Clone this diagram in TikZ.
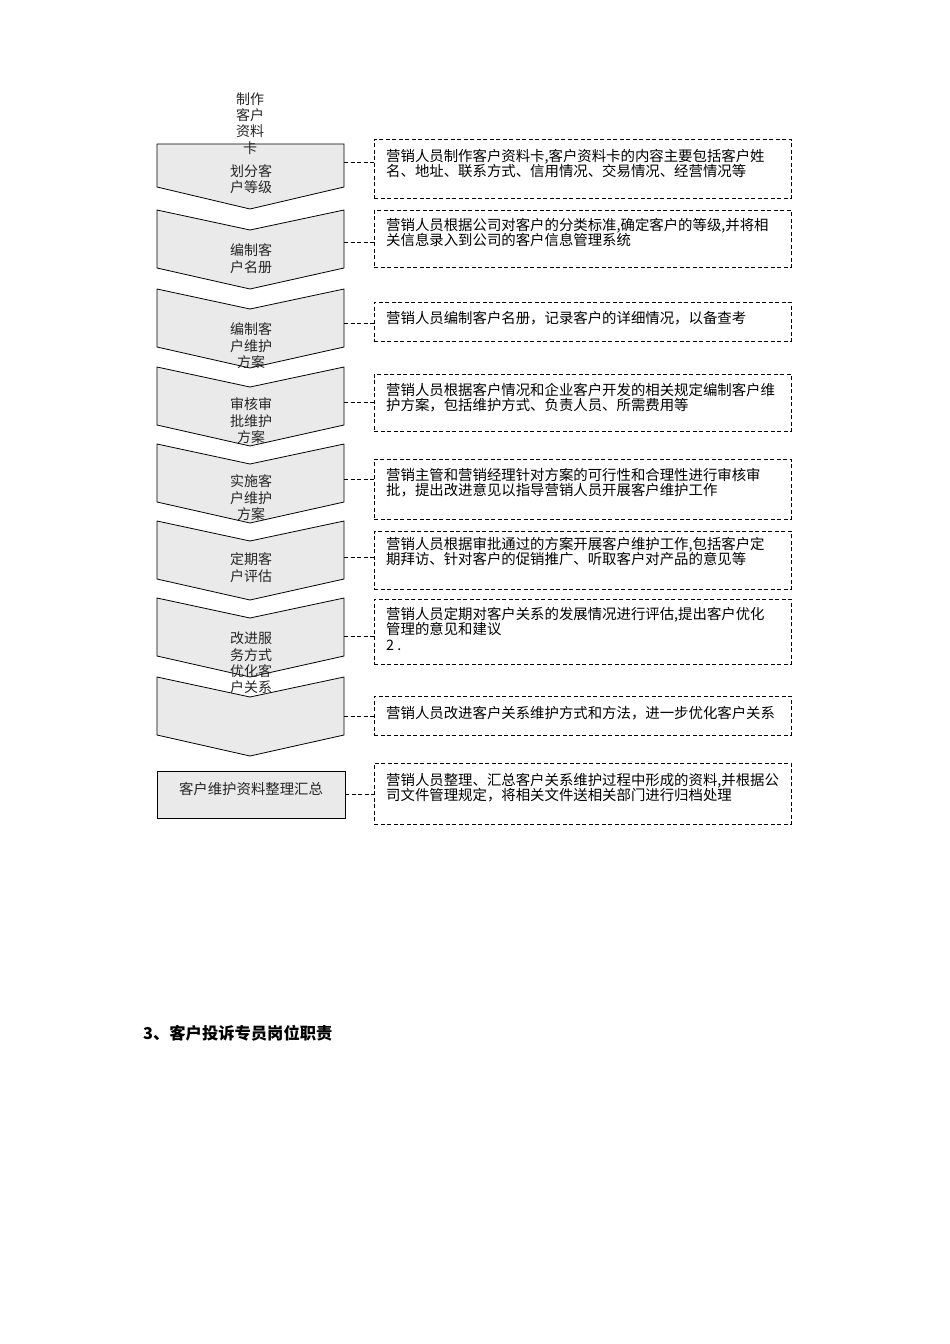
\documentclass[tikz,border=0pt]{standalone}
\usepackage{fontspec}
\newfontfamily\cjk{Noto Sans CJK SC}
\begin{document}
\begin{tikzpicture}[x=1pt,y=-1pt,
  chev/.style={draw=black,line width=0.8pt,fill=chevfill,line join=miter},
  chtext/.style={font=\cjk\fontsize{14}{16.4}\selectfont,align=center,inner sep=0pt,text=black!85},
  dbox/.style={draw=black,line width=0.8pt,dash pattern=on 4pt off 2.5pt,anchor=north west,minimum width=417pt,inner sep=0pt},
  btext/.style={font=\cjk\fontsize{14.4}{15.5}\selectfont,align=left,anchor=north west,inner sep=0pt,text=black},
  conn/.style={draw=black,line width=0.8pt,dash pattern=on 4pt off 2.5pt}]
\definecolor{chevfill}{HTML}{EAEAEA}
\useasboundingbox (0,0) rectangle (950,1344);
\fill[white] (0,0) rectangle (950,1344);

% chevrons
\draw[chev] (157,144) -- (344,144) -- (344,187) -- (250,209) -- (157,187) -- cycle;
\foreach \T in {210,289,367,444,521,598,677}{
  \draw[chev] (157,\T) -- (250,\T+20) -- (344,\T) -- (344,\T+58) -- (250,\T+79) -- (157,\T+58) -- cycle;
}
% final rectangle
\node[draw=black,line width=0.8pt,fill=chevfill,minimum width=188pt,minimum height=47pt,inner sep=0pt] (r9) at (251,794.5) {};
\node[chtext,font=\cjk\fontsize{14.4}{16}\selectfont] (l9) at (251,789) {客户维护资料整理汇总};

% chevron texts
\node[chtext] (l0) at (250,123.5) {制作\\客户\\资料\\卡};
\node[chtext] (l1) at (251,179) {划分客\\户等级};
\node[chtext] (l2) at (251,258.5) {编制客\\户名册};
\node[chtext] (l3) at (251,346) {编制客\\户维护\\方案};
\node[chtext] (l4) at (251,421) {审核审\\批维护\\方案};
\node[chtext] (l5) at (251,498) {实施客\\户维护\\方案};
\node[chtext] (l6) at (251,567.5) {定期客\\户评估};
\node[chtext] (l7) at (251,663) {改进服\\务方式\\优化客\\户关系};

% connector start points on chevron right edges
\coordinate (c1) at (344,162);
\coordinate (c2) at (344,242);
\coordinate (c3) at (344,323);
\coordinate (c4) at (344,402);
\coordinate (c5) at (344,479);
\coordinate (c6) at (344,557);
\coordinate (c7) at (344,636);
\coordinate (c8) at (344,716);
\coordinate (c9) at (r9.east |- 0,794);

% dashed boxes
\node[dbox,minimum height=59pt] (b1) at (374,139) {};
\node[dbox,minimum height=57pt] (b2) at (374,210) {};
\node[dbox,minimum height=39pt] (b3) at (374,302) {};
\node[dbox,minimum height=57pt] (b4) at (374,374) {};
\node[dbox,minimum height=60pt] (b5) at (374,459) {};
\node[dbox,minimum height=58pt] (b6) at (374,531) {};
\node[dbox,minimum height=65pt] (b7) at (374,599) {};
\node[dbox,minimum height=39pt] (b8) at (374,696) {};
\node[dbox,minimum height=61pt] (b9) at (374,763) {};

% box texts
\node[btext] (t1) at (386,149) {营销人员制作客户资料卡,客户资料卡的内容主要包括客户姓\\名、地址、联系方式、信用情况、交易情况、经营情况等};
\node[btext] (t2) at (386,218) {营销人员根据公司对客户的分类标准,确定客户的等级,并将相\\关信息录入到公司的客户信息管理系统};
\node[btext] (t3) at (386,311) {营销人员编制客户名册，记录客户的详细情况，以备查考};
\node[btext] (t4) at (386,383) {营销人员根据客户情况和企业客户开发的相关规定编制客户维\\护方案，包括维护方式、负责人员、所需费用等};
\node[btext] (t5) at (386,468) {营销主管和营销经理针对方案的可行性和合理性进行审核审\\批，提出改进意见以指导营销人员开展客户维护工作};
\node[btext] (t6) at (386,537) {营销人员根据审批通过的方案开展客户维护工作,包括客户定\\期拜访、针对客户的促销推广、听取客户对产品的意见等};
\node[btext] (t7) at (386,607) {营销人员定期对客户关系的发展情况进行评估,提出客户优化\\管理的意见和建议\\2 .};
\node[btext] (t8) at (386,706) {营销人员改进客户关系维护方式和方法，进一步优化客户关系};
\node[btext] (t9) at (386,773) {营销人员整理、汇总客户关系维护过程中形成的资料,并根据公\\司文件管理规定，将相关文件送相关部门进行归档处理};

% connectors
\foreach \i in {1,...,9}{
  \draw[conn] (c\i) -- (b\i.west |- c\i);
}

% heading
\node[font=\cjk\bfseries\fontsize{16.3}{18}\selectfont,anchor=west,inner sep=0pt] (h3) at (143,1033) {3、客户投诉专员岗位职责};
\end{tikzpicture}
\end{document}
